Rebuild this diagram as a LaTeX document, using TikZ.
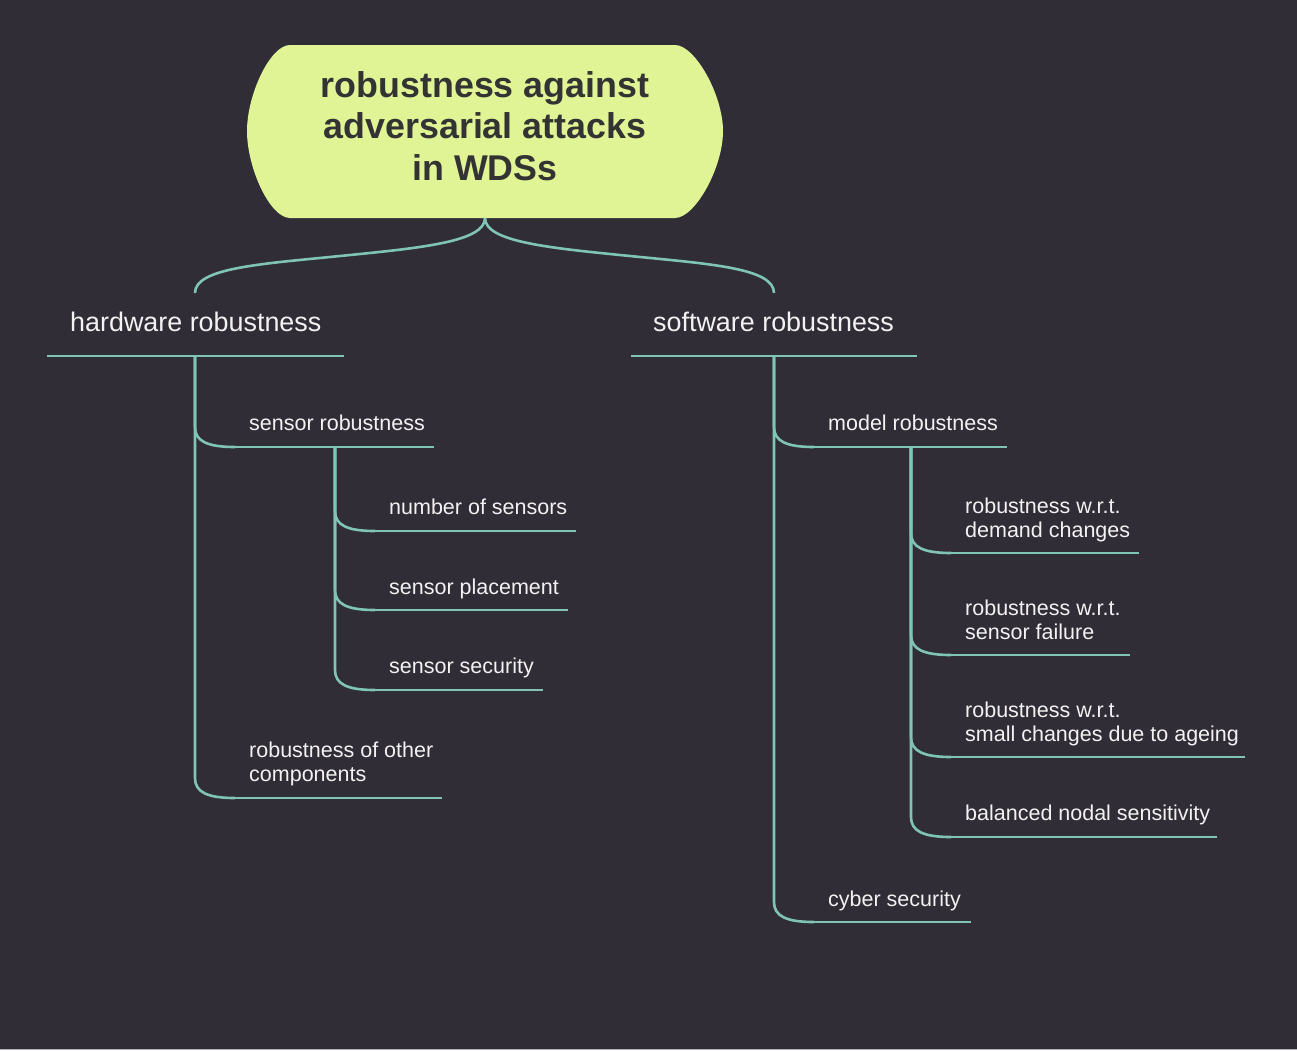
\documentclass[tikz,border=0pt]{standalone}
\usepackage{fontspec}
\setmainfont{Liberation Sans}
\usetikzlibrary{calc}
\definecolor{bg}{HTML}{302D37}
\definecolor{edge}{HTML}{7FC4B5}
\definecolor{rootfill}{HTML}{E0F495}
\definecolor{roottext}{HTML}{333333}
\definecolor{lbl}{HTML}{F2F2F2}
\newcommand\twolines[2]{\begin{tabular}[t]{@{}l@{}}#1\\#2\end{tabular}}
\tikzset{
  lvlone/.style={anchor=base west, inner sep=0pt, text=lbl, font=\fontsize{26.9}{31}\selectfont},
  lvltwo/.style={anchor=base west, inner sep=0pt, text=lbl, font=\fontsize{21.5}{24}\selectfont},
  link/.style={draw=edge, line width=2.6pt},
  branch/.style={to path={let \p1=(\tikztostart), \p2=(\tikztotarget) in
      -- (\x1,\y2+20pt) .. controls (\x1,\y2+6pt) and (\x1+12pt,\y2) .. (\x2,\y2)}},
}
\begin{document}
\begin{tikzpicture}[x=1pt,y=-1pt]
\fill[bg] (0,0) rectangle (1297,1050);
\useasboundingbox (0,0) rectangle (1297,1050);
\fill[gray!60] (0,1048.5) rectangle (1297,1050);

% root
\fill[rootfill] (290,45) -- (675,45) .. controls (695,45) and (723,95) .. (723,131)
  .. controls (723,168) and (695,218) .. (675,218) -- (290,218)
  .. controls (270,218) and (247,168) .. (247,131)
  .. controls (247,95) and (270,45) .. (290,45) -- cycle;
\node[anchor=base, inner sep=0pt, text=roottext, font=\fontsize{35.8}{41.5}\bfseries\selectfont] (root) at (485,97)
  {\begin{tabular}[t]{@{}c@{}}robustness against\\adversarial attacks\\in WDSs\end{tabular}};
\coordinate (root-b) at (485,218);

% level 1
\node[lvlone] (hw) at (70,331) {hardware robustness};
\coordinate (hw-t) at (195,293);
\coordinate (hw-l) at (47,356); \coordinate (hw-r) at (344,356); \coordinate (hw-j) at (195,356);
\node[lvlone] (sw) at (653,331) {software robustness};
\coordinate (sw-t) at (774,293);
\coordinate (sw-l) at (631,356); \coordinate (sw-r) at (917,356); \coordinate (sw-j) at (774,356);

\draw[link] (root-b) .. controls (485,242) and (420,248) .. (340,256)
  .. controls (260,264) and (195,268) .. (hw-t);
\draw[link] (root-b) .. controls (485,242) and (550,248) .. (630,256)
  .. controls (710,264) and (774,268) .. (sw-t);
\draw[link] (hw-l) -- (hw-r);
\draw[link] (sw-l) -- (sw-r);

% hardware children
\node[lvltwo] (sr) at (249,430) {sensor robustness};
\coordinate (sr-l) at (235,447); \coordinate (sr-r) at (434,447); \coordinate (sr-j) at (335,447);
\node[lvltwo] (oc) at (249,757) {\twolines{robustness of other}{components}};
\coordinate (oc-l) at (235,798); \coordinate (oc-r) at (442,798);
\draw[link] (hw-j) to[branch] (oc-l);
\draw[link] (hw-j) to[branch] (sr-l);
\draw[link] (sr-l) -- (sr-r);
\draw[link] (oc-l) -- (oc-r);

% sensor robustness children
\node[lvltwo] (ns) at (389,514) {number of sensors};
\coordinate (ns-l) at (375,531); \coordinate (ns-r) at (576,531);
\node[lvltwo] (sp) at (389,594) {sensor placement};
\coordinate (sp-l) at (375,610); \coordinate (sp-r) at (568,610);
\node[lvltwo] (ss) at (389,673) {sensor security};
\coordinate (ss-l) at (375,690); \coordinate (ss-r) at (543,690);
\draw[link] (sr-j) to[branch] (ss-l);
\draw[link] (sr-j) to[branch] (sp-l);
\draw[link] (sr-j) to[branch] (ns-l);
\draw[link] (ns-l) -- (ns-r);
\draw[link] (sp-l) -- (sp-r);
\draw[link] (ss-l) -- (ss-r);

% software children
\node[lvltwo] (mr) at (828,430) {model robustness};
\coordinate (mr-l) at (814,447); \coordinate (mr-r) at (1007,447); \coordinate (mr-j) at (911,447);
\node[lvltwo] (cs) at (828,906) {cyber security};
\coordinate (cs-l) at (814,922); \coordinate (cs-r) at (971,922);
\draw[link] (sw-j) to[branch] (cs-l);
\draw[link] (sw-j) to[branch] (mr-l);
\draw[link] (mr-l) -- (mr-r);
\draw[link] (cs-l) -- (cs-r);

% model robustness children
\node[lvltwo] (dc) at (965,513) {\twolines{robustness w.r.t.}{demand changes}};
\coordinate (dc-l) at (951,553); \coordinate (dc-r) at (1139,553);
\node[lvltwo] (sf) at (965,615) {\twolines{robustness w.r.t.}{sensor failure}};
\coordinate (sf-l) at (951,655); \coordinate (sf-r) at (1130,655);
\node[lvltwo] (ag) at (965,717) {\twolines{robustness w.r.t.}{small changes due to ageing}};
\coordinate (ag-l) at (951,757); \coordinate (ag-r) at (1245,757);
\node[lvltwo] (bn) at (965,820) {balanced nodal sensitivity};
\coordinate (bn-l) at (951,837); \coordinate (bn-r) at (1217,837);
\draw[link] (mr-j) to[branch] (bn-l);
\draw[link] (mr-j) to[branch] (ag-l);
\draw[link] (mr-j) to[branch] (sf-l);
\draw[link] (mr-j) to[branch] (dc-l);
\draw[link] (dc-l) -- (dc-r);
\draw[link] (sf-l) -- (sf-r);
\draw[link] (ag-l) -- (ag-r);
\draw[link] (bn-l) -- (bn-r);
\end{tikzpicture}
\end{document}
